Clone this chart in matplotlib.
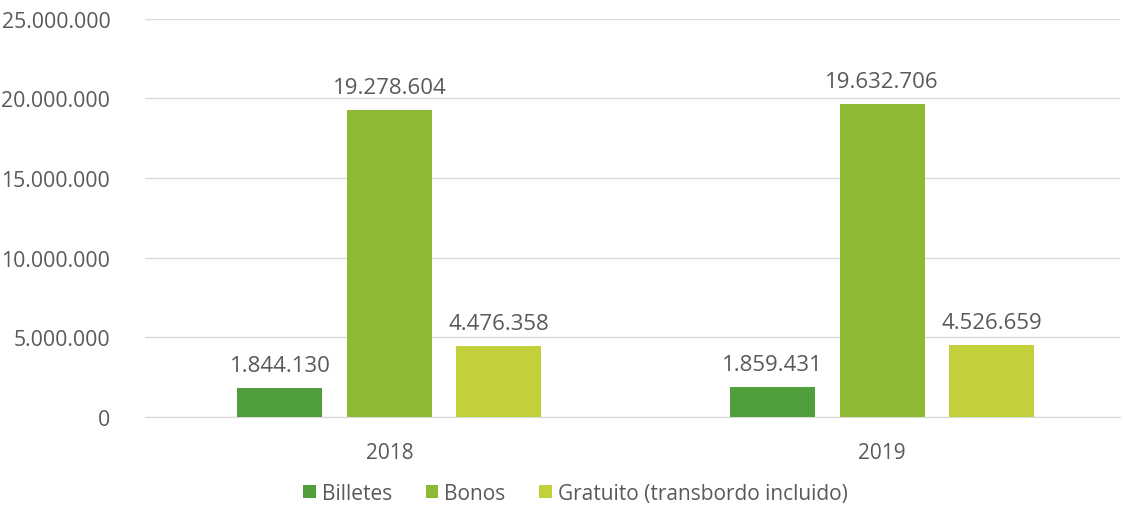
import matplotlib
matplotlib.use("Agg")
import matplotlib.pyplot as plt
import numpy as np
from matplotlib.ticker import FuncFormatter

years = ["2018", "2019"]
series = ["Billetes", "Bonos", "Gratuito (transbordo incluido)"]
billetes = [1844130, 1859431]
bonos = [19278604, 19632706]
gratuito = [4476358, 4526659]
colors = ["#519E3C", "#8DB934", "#C3D03B"]

plt.rcParams["font.family"] = ["Open Sans", "DejaVu Sans"]
txt = "#595959"

def fmt(v):
    return f"{int(v):,}".replace(",", ".")

fig = plt.figure(figsize=(11.24, 5.06), dpi=100)
ax = fig.add_axes([0.129, 0.174, 0.867, 0.787])

x = np.arange(len(years))
width = 0.1725
step = 0.222
for i, (name, vals) in enumerate(zip(series, [billetes, bonos, gratuito])):
    bars = ax.bar(x + (i - 1) * step, vals, width, color=colors[i], label=name, zorder=3)
    for b, v in zip(bars, vals):
        ax.text(b.get_x() + b.get_width() / 2, v + 750000, fmt(v),
                ha="center", va="bottom", fontsize=16, color=txt)

ax.set_xlim(-0.496, 1.482)
ax.set_ylim(0, 25000000)
ax.set_yticks(np.arange(0, 25000001, 5000000))
ax.yaxis.set_major_formatter(FuncFormatter(lambda v, p: fmt(v)))
ax.set_xticks(x)
ax.set_xticklabels(years)
ax.grid(axis="y", color="#D9D9D9", linewidth=1, zorder=0)
for s in ["top", "right", "left"]:
    ax.spines[s].set_visible(False)
ax.spines["bottom"].set_color("#D9D9D9")
ax.tick_params(axis="y", length=0, colors=txt, labelsize=15.3, pad=25)
ax.tick_params(axis="x", length=0, colors=txt, labelsize=15, pad=18)

leg = fig.legend(loc="lower center", bbox_to_anchor=(0.512, -0.035), ncol=3, frameon=False,
                 fontsize=15, handlelength=0.6, handleheight=0.6, handletextpad=0.3,
                 columnspacing=1.6)
for t in leg.get_texts():
    t.set_color(txt)

plt.savefig("out.png", dpi=100)
